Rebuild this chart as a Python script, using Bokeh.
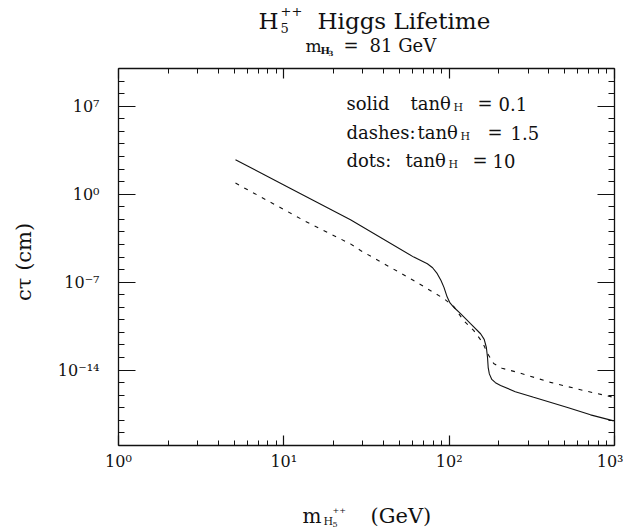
from bokeh.plotting import figure
from bokeh.models import LogAxis, FixedTicker, CustomJSTickFormatter, Label
from bokeh.embed import file_html
from bokeh.resources import INLINE
import math

# Doubly-charged Higgs mass (GeV) and decay length c*tau (cm)
mass_solid = [5.1, 11.2, 25.3, 61.1, 73.8, 79.4, 84.7, 89.1, 92.9, 97.3, 101.2,
              106.7, 117.2, 134.6, 154.9, 162.9, 167.9, 170.6, 172.2, 175.0,
              181.1, 190.5, 204.6, 251.2, 324.3, 520.0, 716.0, 989.0]
ctau_solid = [5.5e2, 2.5, 9.1e-3, 9.8e-6, 2.9e-6, 1.4e-6, 4.7e-7, 1.4e-7, 4.0e-8,
              6.5e-9, 2.2e-9, 1.0e-9, 3.1e-10, 4.9e-11, 7.8e-12, 2.8e-12, 6.3e-13,
              1.0e-13, 1.6e-14, 5.0e-15, 1.8e-15, 1.0e-15, 6.0e-16, 1.9e-16,
              6.8e-17, 1.07e-17, 2.75e-18, 9.1e-19]

mass_dash = [5.1, 13.2, 25.3, 29.1, 61.0, 92.5, 106.4, 122.2, 140.6, 159.2,
             170.6, 185.8, 208.9, 259.4, 410.2, 650.1, 988.6]
ctau_dash = [7.6, 8.1e-3, 1.1e-4, 3.3e-5, 1.35e-7, 5.0e-9, 1.2e-9, 8.9e-11,
             1.45e-11, 1.6e-12, 2.1e-13, 3.4e-14, 1.4e-14, 6.6e-15, 1.05e-15,
             2.4e-16, 6.8e-17]

x_major = [1, 10, 100, 1000]
y_major = [1e-14, 1e-7, 1, 1e7]

X_LO, X_HI = 1, 1000
Y_LO, Y_HI = 1e-20, 1e10

FONT = "DejaVu Serif"
INK = "#111111"

# The plotting frame fills the whole canvas; the box of axes sits inside it
# at these pixel edges, so titles and axis captions can live in the frame too.
W, H = 623, 531
BOX_L, BOX_R, BOX_T, BOX_B = 118, 614, 68, 445
px_dec_x = (BOX_R - BOX_L) / (math.log10(X_HI) - math.log10(X_LO))
px_dec_y = (BOX_B - BOX_T) / (math.log10(Y_HI) - math.log10(Y_LO))
x_full = (10 ** (math.log10(X_LO) - BOX_L / px_dec_x),
          10 ** (math.log10(X_HI) + (W - BOX_R) / px_dec_x))
y_full = (10 ** (math.log10(Y_LO) - (H - BOX_B) / px_dec_y),
          10 ** (math.log10(Y_HI) + BOX_T / px_dec_y))

p = figure(width=W, height=H, x_axis_type="log", y_axis_type="log",
           x_range=x_full, y_range=y_full, title=None,
           output_backend="svg", toolbar_location=None,
           min_border=0, min_border_left=0, min_border_right=0,
           min_border_top=0, min_border_bottom=0)
p.grid.visible = False
p.outline_line_color = None
p.background_fill_color = "white"
p.border_fill_color = "white"

x_minor = [m * 10 ** d for d in range(0, 3) for m in range(2, 10)]
y_minor = [10.0 ** k for k in range(-20, 11)]

power_fmt = CustomJSTickFormatter(code="""
    const sup = {'0':'\u2070','1':'\u00b9','2':'\u00b2','3':'\u00b3','4':'\u2074',
                 '5':'\u2075','6':'\u2076','7':'\u2077','8':'\u2078','9':'\u2079','-':'\u207b'};
    const e = String(Math.round(Math.log10(tick)));
    let s = '10';
    for (const c of e) { s += sup[c]; }
    return s;
""")
blank_fmt = CustomJSTickFormatter(code="return '';")


def style(ax, ticks, minor, major_len, minor_len, labels, at, bounds):
    ax.fixed_location = at
    ax.bounds = bounds
    ax.ticker = FixedTicker(ticks=ticks, minor_ticks=minor)
    ax.axis_line_color = INK
    ax.axis_line_width = 1.3
    ax.major_tick_line_color = INK
    ax.minor_tick_line_color = INK
    ax.major_tick_line_width = 1.2
    ax.minor_tick_line_width = 1.0
    ax.major_tick_in = major_len
    ax.major_tick_out = 0
    ax.minor_tick_in = minor_len
    ax.minor_tick_out = 0
    ax.major_label_text_font = FONT
    ax.major_label_text_font_size = "16px"
    ax.major_label_text_color = INK
    if labels:
        ax.formatter = power_fmt
    else:
        ax.formatter = blank_fmt
        ax.major_label_standoff = 0


style(p.xaxis[0], x_major, x_minor, 10, 5, True, Y_LO, (X_LO, X_HI))
p.xaxis[0].major_label_standoff = 6
style(p.yaxis[0], y_major, y_minor, 17, 6, True, X_LO, (Y_LO, Y_HI))
p.yaxis[0].major_label_standoff = 19

top_axis = LogAxis()
style(top_axis, x_major, x_minor, 10, 5, False, Y_HI, (X_LO, X_HI))
p.add_layout(top_axis, "above")
right_axis = LogAxis()
style(right_axis, y_major, y_minor, 17, 6, False, X_HI, (Y_LO, Y_HI))
p.add_layout(right_axis, "right")

# curves
p.line(mass_solid, ctau_solid, line_color=INK, line_width=1.1)
p.line(mass_dash, ctau_dash, line_color=INK, line_width=1.1, line_dash="4 6")


def text(s, px, py, size, align="left", baseline="alphabetic", angle=0.0, style="normal"):
    """text placed at a canvas pixel position (px from left, py from top)"""
    p.add_layout(Label(x=px, y=py, x_units="canvas", y_units="canvas",
                       text=s, text_font=FONT, text_font_size=f"{size}px",
                       text_color=INK, text_align=align, text_baseline=baseline,
                       angle=angle, text_font_style=style))


# title
text("H", 258, 20, 23)
text("5", 280, 27, 13)
text("++", 280, 10, 13)
text("Higgs Lifetime", 317, 20, 23)
# subtitle
text("m", 305, 45, 17)
text("H", 320, 50, 10, style="bold")
text("3", 328, 52, 7, style="bold")
text("=", 343, 45, 18)
text("81 GeV", 369, 45, 18)

# legend text
legend_rows = [
    ("solid", 103, 410, 453, 477, "0.1", 498),
    ("dashes:", 132, 417, 460, 487, "1.5", 510),
    ("dots:", 160, 405, 448, 472, "10", 492),
]
for name, base, xt, xh, xe, val, xv in legend_rows:
    text(name, 346, base, 18)
    text("tan\u03b8", xt, base, 18)
    text("H", xh, base + 4, 11)
    text("=", xe, base, 18)
    text(val, xv, base, 18)

# axis titles
text("c\u03c4  (cm)", 23, 258, 21, align="center", baseline="middle", angle=math.pi / 2)
text("m", 302, 515, 20)
text("H", 323, 521, 11)
text("5", 332, 524, 8)
text("++", 332, 510, 8)
text("(GeV)", 370, 515, 21)

open("out.html", "w").write(file_html(p, INLINE))
